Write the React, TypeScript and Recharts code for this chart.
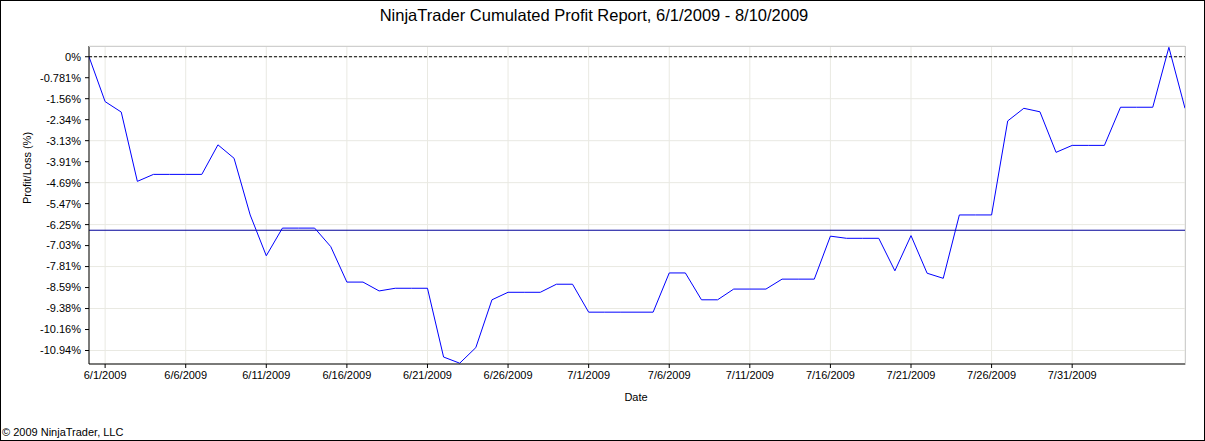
import { LineChart, Line, XAxis, YAxis, CartesianGrid, ReferenceLine } from "recharts";

// one point per calendar day, cumulated P/L in percent
const dayLabels = [
  "5/31",
  "6/1", "6/2", "6/3", "6/4", "6/5", "6/6", "6/7", "6/8", "6/9", "6/10",
  "6/11", "6/12", "6/13", "6/14", "6/15", "6/16", "6/17", "6/18", "6/19", "6/20",
  "6/21", "6/22", "6/23", "6/24", "6/25", "6/26", "6/27", "6/28", "6/29", "6/30",
  "7/1", "7/2", "7/3", "7/4", "7/5", "7/6", "7/7", "7/8", "7/9", "7/10",
  "7/11", "7/12", "7/13", "7/14", "7/15", "7/16", "7/17", "7/18", "7/19", "7/20",
  "7/21", "7/22", "7/23", "7/24", "7/25", "7/26", "7/27", "7/28", "7/29", "7/30",
  "7/31", "8/1", "8/2", "8/3", "8/4", "8/5", "8/6", "8/7",
];

const profitPct = [
  0,
  -1.67, -2.06, -4.64, -4.38, -4.38, -4.38, -4.38, -3.28, -3.78, -5.89,
  -7.41, -6.38, -6.38, -6.38, -7.07, -8.39, -8.39, -8.72, -8.62, -8.62,
  -8.62, -11.18, -11.41, -10.83, -9.05, -8.77, -8.77, -8.77, -8.47, -8.47,
  -9.51, -9.51, -9.51, -9.51, -9.51, -8.05, -8.05, -9.05, -9.05, -8.65,
  -8.65, -8.65, -8.28, -8.28, -8.28, -6.68, -6.76, -6.76, -6.76, -7.97,
  -6.66, -8.06, -8.25, -5.89, -5.89, -5.89, -2.39, -1.92, -2.05, -3.56,
  -3.3, -3.3, -3.3, -1.88, -1.88, -1.88, 0.35, -1.92,
];

const xTickLabels = [
  "6/1/2009", "6/6/2009", "6/11/2009", "6/16/2009", "6/21/2009", "6/26/2009",
  "7/1/2009", "7/6/2009", "7/11/2009", "7/16/2009", "7/21/2009", "7/26/2009",
  "7/31/2009",
];

const yTicks = [
  0, -0.78125, -1.5625, -2.34375, -3.125, -3.90625, -4.6875, -5.46875,
  -6.25, -7.03125, -7.8125, -8.59375, -9.375, -10.15625, -10.9375,
];
const yTickLabels = [
  "0%", "-0.781%", "-1.56%", "-2.34%", "-3.13%", "-3.91%", "-4.69%", "-5.47%",
  "-6.25%", "-7.03%", "-7.81%", "-8.59%", "-9.38%", "-10.16%", "-10.94%",
];

const averageLine = -6.46;
const yDomain = [-11.44, 0.4];

const font = '"Liberation Sans", Arial, sans-serif';

const toTime = (s: string) => {
  const [m, d, y] = s.split("/").map(Number);
  return Date.UTC(y || 2009, m - 1, d);
};

const data = dayLabels.map((d, i) => ({ t: toTime(d), pnl: profitPct[i] }));
const xTicks = xTickLabels.map(toTime);

const fmtDate = (v: number) => {
  const d = new Date(v);
  return `${d.getUTCMonth() + 1}/${d.getUTCDate()}/${d.getUTCFullYear()}`;
};

export default function App() {
  return (
    <div
      style={{
        position: "absolute",
        left: 0,
        top: 0,
        width: 1205,
        height: 441,
        background: "#fff",
        fontFamily: font,
        color: "#000",
      }}
    >
      <LineChart
        width={1205}
        height={441}
        data={data}
        margin={{ top: 46, right: 20, bottom: 47, left: 0 }}
        style={{ fontFamily: font }}
      >
        <CartesianGrid stroke="#e9e9e2" />
        <XAxis
          dataKey="t"
          type="number"
          domain={[data[0].t, data[data.length - 1].t]}
          allowDataOverflow
          ticks={xTicks}
          tickFormatter={fmtDate}
          height={30}
          stroke="#000"
          tickSize={4}
          tickMargin={3}
          tick={{ fontSize: 11, fill: "#000" }}
        />
        <YAxis
          type="number"
          domain={yDomain}
          allowDataOverflow
          ticks={yTicks}
          tickFormatter={(v: number) => yTickLabels[yTicks.indexOf(v)] ?? ""}
          width={89}
          stroke="#000"
          tickSize={4}
          tickMargin={4}
          tick={{ fontSize: 11, fill: "#000" }}
        />
        <ReferenceLine y={0} stroke="#000" strokeDasharray="3 2" />
        <ReferenceLine y={averageLine} stroke="#000099" />
        <Line
          type="linear"
          dataKey="pnl"
          stroke="#0000ff"
          strokeWidth={1}
          dot={false}
          isAnimationActive={false}
        />
      </LineChart>

      {/* light frame on the top/right of the plot area */}
      <div
        style={{
          position: "absolute",
          left: 89,
          top: 46,
          width: 1097,
          height: 319,
          boxSizing: "border-box",
          borderTop: "1px solid #cfcfcf",
          borderRight: "1px solid #cfcfcf",
          pointerEvents: "none",
        }}
      />

      <div
        style={{
          position: "absolute",
          left: 0,
          top: 6,
          width: 1188,
          textAlign: "center",
          fontSize: 16.5,
        }}
      >
        NinjaTrader Cumulated Profit Report, 6/1/2009 - 8/10/2009
      </div>

      <div
        style={{
          position: "absolute",
          left: 27,
          top: 168,
          fontSize: 11,
          whiteSpace: "nowrap",
          transform: "translate(-50%, -50%) rotate(-90deg)",
        }}
      >
        Profit/Loss (%)
      </div>

      <div
        style={{
          position: "absolute",
          left: 636,
          top: 397,
          fontSize: 11,
          transform: "translate(-50%, -50%)",
        }}
      >
        Date
      </div>

      <div style={{ position: "absolute", left: 2, top: 426, fontSize: 11 }}>
        © 2009 NinjaTrader, LLC
      </div>

      {/* outer border */}
      <div
        style={{
          position: "absolute",
          left: 0,
          top: 0,
          width: 1205,
          height: 441,
          boxSizing: "border-box",
          border: "1px solid #000",
          pointerEvents: "none",
        }}
      />
    </div>
  );
}
